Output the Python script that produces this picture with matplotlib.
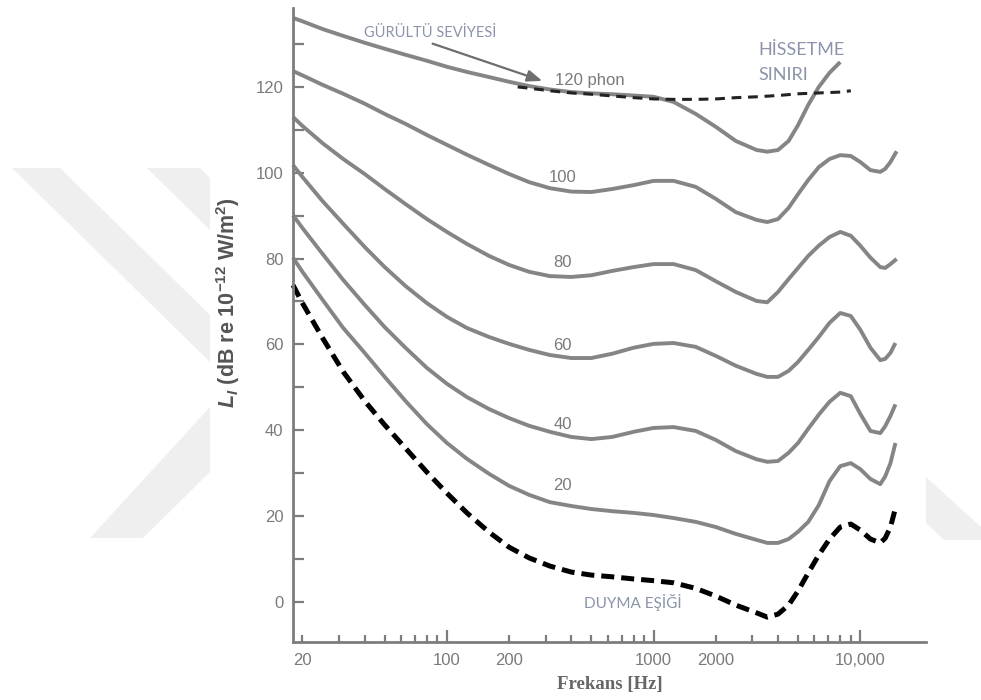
import matplotlib
matplotlib.use("Agg")
import matplotlib.pyplot as plt
from matplotlib.patches import Polygon
from matplotlib.ticker import FixedLocator, FuncFormatter

# Esit yukseklik egrileri - frekans (Hz) ve seviye (dB)
contour_f = [18, 20, 25, 31.5, 40, 50, 63, 80, 100, 125, 160, 200, 250, 315, 400, 500, 630, 800, 1000,
             1250, 1600, 2000, 2500, 3150, 3550, 4000, 4500, 5000, 5600, 6300, 7100, 8000, 9000, 10000,
             11200, 12500, 13200, 14000]

threshold_f = contour_f + [14800]
threshold_L = [73.8, 69.6, 61.5, 53.6, 46.8, 41.2, 35.8, 30.2, 25.3, 20.7, 16.2, 12.7, 10.2, 8.3, 6.9, 6.2, 5.8, 5.3, 4.9,
               4.4, 3.1, 1.3, -0.8, -2.6, -3.6, -2.9, -0.8, 2.5, 6.7, 10.9, 14.6, 17.4, 18.1, 16.7,
               14.6, 13.7, 14.8, 17.4, 21.8]

phon20_f = contour_f + [14800]
phon20_L = [80.2, 76.9, 70.4, 63.8, 58.0, 52.4, 46.8, 41.4, 37.0, 33.3, 29.8, 27.0, 24.9, 23.2, 22.3, 21.6, 21.1, 20.7, 20.2,
            19.5, 18.6, 17.4, 15.8, 14.4, 13.7, 13.7, 14.6, 16.3, 18.6, 22.5, 28.1, 31.6, 32.3, 30.9,
            28.6, 27.4, 29.2, 32.3, 37.0]

phon40_f = contour_f + [14800]
phon40_L = [90.1, 87.1, 81.1, 75.0, 69.2, 64.0, 59.2, 54.5, 50.8, 47.7, 44.9, 42.8, 41.0, 39.6, 38.4, 37.9, 38.4, 39.6, 40.5,
            40.7, 39.8, 37.7, 35.1, 33.2, 32.6, 32.8, 34.7, 37.0, 40.3, 43.6, 46.6, 48.7, 47.9, 43.8,
            39.8, 39.3, 40.9, 43.3, 46.0]

phon60_f = contour_f + [14800]
phon60_L = [101.8, 99.0, 93.4, 88.1, 82.7, 78.0, 73.6, 69.6, 66.4, 63.8, 61.7, 60.1, 58.7, 57.5, 56.8, 56.8, 57.8, 59.2, 60.1,
            60.3, 59.4, 57.3, 55.0, 53.1, 52.4, 52.4, 53.8, 55.9, 58.7, 61.7, 65.0, 67.3, 66.6, 63.4,
            59.2, 56.3, 56.6, 58.0, 60.3]

phon80_f = contour_f + [15000]
phon80_L = [113.0, 110.9, 106.9, 103.2, 99.7, 96.2, 92.7, 89.2, 86.2, 83.4, 80.6, 78.5, 76.9, 75.9, 75.7, 76.1, 77.1, 78.0, 78.7,
            78.7, 77.3, 74.7, 72.2, 70.1, 69.8, 72.2, 75.2, 77.8, 80.6, 83.0, 85.0, 86.2, 85.3, 83.0,
            80.2, 78.0, 77.8, 78.7, 79.9]

phon100_f = contour_f + [15000]
phon100_L = [123.7, 122.7, 120.5, 118.4, 116.1, 113.7, 111.4, 108.8, 106.5, 104.2, 101.8, 99.7, 97.8, 96.4, 95.6, 95.5, 96.2,
             97.1, 98.1, 98.1, 96.7, 93.9, 90.8, 89.0, 88.5, 89.2, 91.8, 95.0, 98.3, 101.3, 103.2, 104.1, 103.9,
             102.5, 100.6, 100.2, 100.9, 102.5, 105.0]

phon120_f = contour_f[:32]
phon120_L = [136.1, 135.3, 133.5, 131.9, 130.3, 128.9, 127.5, 126.1, 124.7, 123.5, 122.3, 121.2, 120.2, 119.4, 118.8, 118.5,
             118.3, 118.0, 117.7, 116.5, 113.7, 110.7, 107.4, 105.3, 104.9, 105.3, 107.4, 111.1, 115.8, 120.0,
             123.3, 125.8]

# Hissetme siniri (ince kesikli cizgi)
feeling_f = [220, 250, 315, 400, 500, 630, 800, 1000, 1250, 1600, 2000, 2500, 3150, 4000, 5000, 6300, 8000, 9000]
feeling_L = [120.0, 119.7, 119.1, 118.6, 118.3, 117.9, 117.5, 117.2, 117.1, 117.1, 117.2, 117.5, 117.7, 118.0, 118.4,
             118.6, 118.8, 119.1]

phon_labels = ["100", "80", "60", "40", "20"]
phon_label_L = [98.8, 79.0, 59.8, 41.2, 27.2]

x_tick_labels = {20: "20", 100: "100", 200: "200", 1000: "1000", 2000: "2000", 10000: "10,000"}

GRAY = "#858585"
TEXT_GRAY = "#7a7a7a"
NOTE_COLOR = "#8b94ab"
WM_COLOR = "#efefef"

plt.rcParams["font.family"] = ["Liberation Sans", "DejaVu Sans"]
plt.rcParams["mathtext.fontset"] = "custom"
plt.rcParams["mathtext.rm"] = "Liberation Sans:bold"
plt.rcParams["mathtext.bf"] = "Liberation Sans:bold"
plt.rcParams["mathtext.it"] = "Liberation Sans:italic:bold"


def to_fig(pts):
    # piksel (y asagi) -> figur orani
    return [(x / 981.0, 1 - y / 700.0) for (x, y) in pts]


def draw_watermark(fig):
    # soluk arka plan logosu
    shapes = [
        [(12, 168), (60, 168), (210, 315), (210, 362)],
        [(147, 168), (200, 168), (210, 178), (210, 230)],
        [(90, 538), (143, 538), (210, 472), (210, 407)],
        [(926, 477), (981, 527), (981, 540), (944, 540), (926, 523)],
    ]
    for s in shapes:
        fig.patches.append(Polygon(to_fig(s), closed=True, transform=fig.transFigure,
                                   facecolor=WM_COLOR, edgecolor="none", zorder=0))


fig = plt.figure(figsize=(9.81, 7.0), dpi=100)
draw_watermark(fig)
ax = fig.add_axes([293 / 981, 1 - 642 / 700, (926 - 293) / 981, (642 - 8) / 700])
ax.patch.set_alpha(0)

ax.set_xscale("log")
ax.set_xlim(18, 20800)
ax.set_ylim(-9.4, 138.4)

for f, L in [(phon20_f, phon20_L), (phon40_f, phon40_L), (phon60_f, phon60_L),
             (phon80_f, phon80_L), (phon100_f, phon100_L), (phon120_f, phon120_L)]:
    ax.plot(f, L, color=GRAY, lw=2.8, solid_capstyle="butt", solid_joinstyle="round", clip_on=False)

ax.plot(threshold_f, threshold_L, color="black", lw=3.6, linestyle=(0, (2.6, 1.4)), clip_on=False)
ax.plot(feeling_f, feeling_L, color="#222222", lw=2.2, linestyle=(0, (3.2, 2.2)), clip_on=False)

# eksen gorunumu
for side in ["top", "right"]:
    ax.spines[side].set_visible(False)
for side in ["left", "bottom"]:
    ax.spines[side].set_color("#7d7d7d")
    ax.spines[side].set_linewidth(2.0)

ax.xaxis.set_major_locator(FixedLocator([100, 1000, 10000]))
ax.xaxis.set_minor_locator(FixedLocator([20] + [m * d for d in (10, 100, 1000) for m in range(2, 10) if m * d > 20]))
fmt = FuncFormatter(lambda v, pos: x_tick_labels.get(int(round(v)), ""))
ax.xaxis.set_major_formatter(fmt)
ax.xaxis.set_minor_formatter(fmt)
ax.set_yticks(range(0, 121, 20))
ax.set_yticks(range(10, 131, 20), minor=True)

ax.tick_params(axis="both", which="both", direction="in", colors="#7d7d7d", labelcolor=TEXT_GRAY,
               labelsize=12, width=1.6)
ax.tick_params(axis="x", which="major", length=9, pad=8)
ax.tick_params(axis="x", which="minor", length=5, pad=8)
ax.tick_params(axis="y", which="both", length=8, pad=7)

ax.set_xlabel("Frekans [Hz]", family="Liberation Serif", fontweight="bold", fontsize=13.5,
              color="#666666", labelpad=6)
ax.set_ylabel(r"$L_I$ (dB re 10$^{-12}$ W/m$^{2}$)", fontweight="bold", fontsize=15.5,
              color="#555555")
ax.yaxis.set_label_coords(-0.08, 0.536)

# egri etiketleri
for txt, L in zip(phon_labels, phon_label_L):
    ax.text(362, L, txt, color=TEXT_GRAY, fontsize=12, ha="center", va="center")
ax.text(333, 121.6, "120 phon", color=TEXT_GRAY, fontsize=12, ha="left", va="center")

ax.text(82.8, 132.6, "GÜRÜLTÜ SEVİYESİ", family="Lato", color=NOTE_COLOR, fontsize=10.5,
        ha="center", va="center")
ax.annotate("", xy=(298, 121.2), xytext=(82.8, 130.3),
            arrowprops=dict(arrowstyle="-|>,head_length=0.9,head_width=0.35", color="#6e6e6e", lw=1.6))
ax.text(3207, 128.6, "HİSSETME", family="Lato", color=NOTE_COLOR, fontsize=13, ha="left", va="center")
ax.text(3207, 122.8, "SINIRI", family="Lato", color=NOTE_COLOR, fontsize=13, ha="left", va="center")
ax.text(796, -0.1, "DUYMA EŞİĞİ", family="Lato", color=NOTE_COLOR, fontsize=11, ha="center", va="center")

fig.savefig("out.png", dpi=100)
